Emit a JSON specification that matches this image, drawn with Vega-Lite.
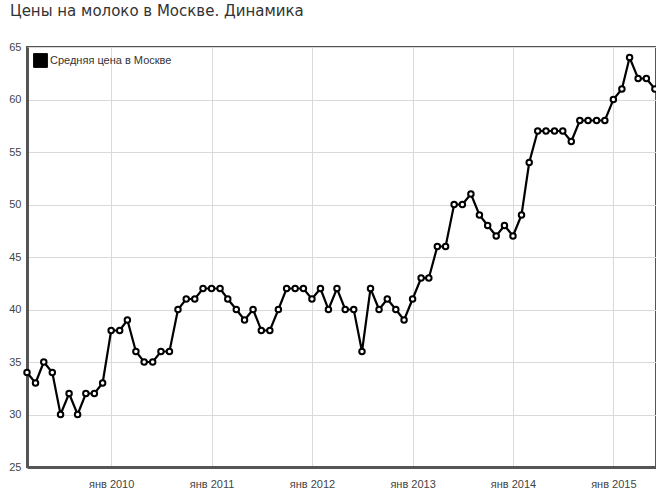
{
  "$schema": "https://vega.github.io/schema/vega-lite/v6.json",
  "width": 629,
  "height": 420,
  "autosize": {"type": "none"},
  "padding": {"left": 27, "top": 47, "right": 0, "bottom": 32},
  "background": "white",
  "title": {
    "text": "Цены на молоко в Москве. Динамика",
    "anchor": "start",
    "frame": "group",
    "dx": -17,
    "offset": 22,
    "font": "DejaVu Sans",
    "fontSize": 15,
    "fontWeight": "normal",
    "color": "#333333"
  },
  "config": {
    "view": {"stroke": "#555555", "strokeWidth": 2},
    "font": "Liberation Sans"
  },
  "data": {
    "values": [
      {"date": "2009-03-01", "price": 34, "series": "Средняя цена в Москве"},
      {"date": "2009-04-01", "price": 33, "series": "Средняя цена в Москве"},
      {"date": "2009-05-01", "price": 35, "series": "Средняя цена в Москве"},
      {"date": "2009-06-01", "price": 34, "series": "Средняя цена в Москве"},
      {"date": "2009-07-01", "price": 30, "series": "Средняя цена в Москве"},
      {"date": "2009-08-01", "price": 32, "series": "Средняя цена в Москве"},
      {"date": "2009-09-01", "price": 30, "series": "Средняя цена в Москве"},
      {"date": "2009-10-01", "price": 32, "series": "Средняя цена в Москве"},
      {"date": "2009-11-01", "price": 32, "series": "Средняя цена в Москве"},
      {"date": "2009-12-01", "price": 33, "series": "Средняя цена в Москве"},
      {"date": "2010-01-01", "price": 38, "series": "Средняя цена в Москве"},
      {"date": "2010-02-01", "price": 38, "series": "Средняя цена в Москве"},
      {"date": "2010-03-01", "price": 39, "series": "Средняя цена в Москве"},
      {"date": "2010-04-01", "price": 36, "series": "Средняя цена в Москве"},
      {"date": "2010-05-01", "price": 35, "series": "Средняя цена в Москве"},
      {"date": "2010-06-01", "price": 35, "series": "Средняя цена в Москве"},
      {"date": "2010-07-01", "price": 36, "series": "Средняя цена в Москве"},
      {"date": "2010-08-01", "price": 36, "series": "Средняя цена в Москве"},
      {"date": "2010-09-01", "price": 40, "series": "Средняя цена в Москве"},
      {"date": "2010-10-01", "price": 41, "series": "Средняя цена в Москве"},
      {"date": "2010-11-01", "price": 41, "series": "Средняя цена в Москве"},
      {"date": "2010-12-01", "price": 42, "series": "Средняя цена в Москве"},
      {"date": "2011-01-01", "price": 42, "series": "Средняя цена в Москве"},
      {"date": "2011-02-01", "price": 42, "series": "Средняя цена в Москве"},
      {"date": "2011-03-01", "price": 41, "series": "Средняя цена в Москве"},
      {"date": "2011-04-01", "price": 40, "series": "Средняя цена в Москве"},
      {"date": "2011-05-01", "price": 39, "series": "Средняя цена в Москве"},
      {"date": "2011-06-01", "price": 40, "series": "Средняя цена в Москве"},
      {"date": "2011-07-01", "price": 38, "series": "Средняя цена в Москве"},
      {"date": "2011-08-01", "price": 38, "series": "Средняя цена в Москве"},
      {"date": "2011-09-01", "price": 40, "series": "Средняя цена в Москве"},
      {"date": "2011-10-01", "price": 42, "series": "Средняя цена в Москве"},
      {"date": "2011-11-01", "price": 42, "series": "Средняя цена в Москве"},
      {"date": "2011-12-01", "price": 42, "series": "Средняя цена в Москве"},
      {"date": "2012-01-01", "price": 41, "series": "Средняя цена в Москве"},
      {"date": "2012-02-01", "price": 42, "series": "Средняя цена в Москве"},
      {"date": "2012-03-01", "price": 40, "series": "Средняя цена в Москве"},
      {"date": "2012-04-01", "price": 42, "series": "Средняя цена в Москве"},
      {"date": "2012-05-01", "price": 40, "series": "Средняя цена в Москве"},
      {"date": "2012-06-01", "price": 40, "series": "Средняя цена в Москве"},
      {"date": "2012-07-01", "price": 36, "series": "Средняя цена в Москве"},
      {"date": "2012-08-01", "price": 42, "series": "Средняя цена в Москве"},
      {"date": "2012-09-01", "price": 40, "series": "Средняя цена в Москве"},
      {"date": "2012-10-01", "price": 41, "series": "Средняя цена в Москве"},
      {"date": "2012-11-01", "price": 40, "series": "Средняя цена в Москве"},
      {"date": "2012-12-01", "price": 39, "series": "Средняя цена в Москве"},
      {"date": "2013-01-01", "price": 41, "series": "Средняя цена в Москве"},
      {"date": "2013-02-01", "price": 43, "series": "Средняя цена в Москве"},
      {"date": "2013-03-01", "price": 43, "series": "Средняя цена в Москве"},
      {"date": "2013-04-01", "price": 46, "series": "Средняя цена в Москве"},
      {"date": "2013-05-01", "price": 46, "series": "Средняя цена в Москве"},
      {"date": "2013-06-01", "price": 50, "series": "Средняя цена в Москве"},
      {"date": "2013-07-01", "price": 50, "series": "Средняя цена в Москве"},
      {"date": "2013-08-01", "price": 51, "series": "Средняя цена в Москве"},
      {"date": "2013-09-01", "price": 49, "series": "Средняя цена в Москве"},
      {"date": "2013-10-01", "price": 48, "series": "Средняя цена в Москве"},
      {"date": "2013-11-01", "price": 47, "series": "Средняя цена в Москве"},
      {"date": "2013-12-01", "price": 48, "series": "Средняя цена в Москве"},
      {"date": "2014-01-01", "price": 47, "series": "Средняя цена в Москве"},
      {"date": "2014-02-01", "price": 49, "series": "Средняя цена в Москве"},
      {"date": "2014-03-01", "price": 54, "series": "Средняя цена в Москве"},
      {"date": "2014-04-01", "price": 57, "series": "Средняя цена в Москве"},
      {"date": "2014-05-01", "price": 57, "series": "Средняя цена в Москве"},
      {"date": "2014-06-01", "price": 57, "series": "Средняя цена в Москве"},
      {"date": "2014-07-01", "price": 57, "series": "Средняя цена в Москве"},
      {"date": "2014-08-01", "price": 56, "series": "Средняя цена в Москве"},
      {"date": "2014-09-01", "price": 58, "series": "Средняя цена в Москве"},
      {"date": "2014-10-01", "price": 58, "series": "Средняя цена в Москве"},
      {"date": "2014-11-01", "price": 58, "series": "Средняя цена в Москве"},
      {"date": "2014-12-01", "price": 58, "series": "Средняя цена в Москве"},
      {"date": "2015-01-01", "price": 60, "series": "Средняя цена в Москве"},
      {"date": "2015-02-01", "price": 61, "series": "Средняя цена в Москве"},
      {"date": "2015-03-01", "price": 64, "series": "Средняя цена в Москве"},
      {"date": "2015-04-01", "price": 62, "series": "Средняя цена в Москве"},
      {"date": "2015-05-01", "price": 62, "series": "Средняя цена в Москве"},
      {"date": "2015-06-01", "price": 61, "series": "Средняя цена в Москве"}
    ]
  },
  "encoding": {
    "x": {
      "field": "date",
      "type": "temporal",
      "scale": {
        "type": "utc",
        "domain": [
          {"year": 2009, "month": 3, "date": 1, "utc": true},
          {"year": 2015, "month": 6, "date": 5, "utc": true}
        ]
      },
      "axis": {
        "title": null,
        "tickCount": {"interval": "year", "step": 1},
        "labelExpr": "'янв ' + utcFormat(datum.value, '%Y')",
        "grid": true,
        "gridColor": "#d9d9d9",
        "gridWidth": 1,
        "ticks": false,
        "domain": true,
        "domainColor": "#555555",
        "domainWidth": 3,
        "labelColor": "#444444",
        "labelFontSize": 11,
        "labelPadding": 11,
        "labelFlush": false,
        "labelOverlap": false
      }
    },
    "y": {
      "field": "price",
      "type": "quantitative",
      "scale": {"domain": [25, 65], "nice": false, "zero": false},
      "axis": {
        "title": null,
        "values": [25, 30, 35, 40, 45, 50, 55, 60, 65],
        "grid": true,
        "gridColor": "#d9d9d9",
        "gridWidth": 1,
        "ticks": false,
        "domain": true,
        "domainColor": "#555555",
        "domainWidth": 3,
        "labelColor": "#444444",
        "labelFontSize": 11,
        "labelPadding": 6
      }
    }
  },
  "layer": [
    {
      "mark": {"type": "line", "strokeWidth": 2.2},
      "encoding": {
        "color": {
          "field": "series",
          "type": "nominal",
          "scale": {"range": ["#000000"]},
          "legend": {
            "title": null,
            "orient": "none",
            "legendX": 6,
            "legendY": 6,
            "padding": 0,
            "symbolType": "square",
            "symbolSize": 190,
            "labelFontSize": 11,
            "labelColor": "#333333",
            "labelOffset": 2,
            "encode": {
              "symbols": {
                "update": {
                  "fill": {"value": "#000000"},
                  "stroke": {"value": "#aaaaaa"},
                  "strokeWidth": {"value": 1},
                  "shape": {"value": "square"}
                }
              }
            }
          }
        }
      }
    },
    {
      "mark": {
        "type": "point",
        "filled": false,
        "fill": "#ffffff",
        "fillOpacity": 1,
        "stroke": "#000000",
        "strokeWidth": 2,
        "size": 30,
        "opacity": 1
      }
    }
  ]
}
